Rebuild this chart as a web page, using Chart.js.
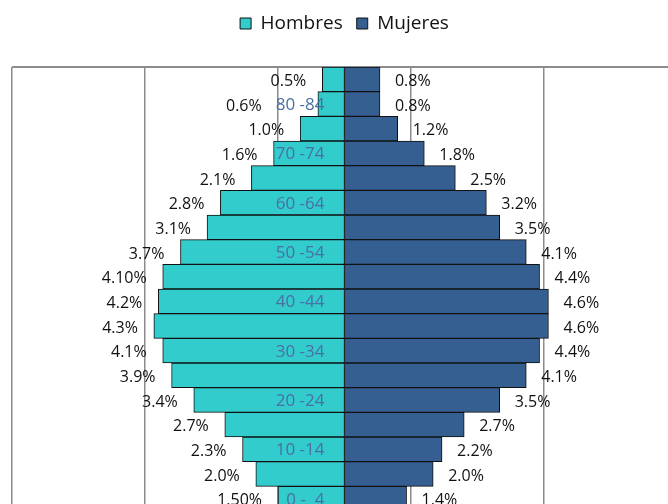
<!DOCTYPE html>
<html>
<head>
<meta charset="utf-8">
<script src="https://cdn.jsdelivr.net/npm/chart.js@4.4.1/dist/chart.umd.min.js"></script>
<style>
  html, body { margin: 0; padding: 0; overflow: hidden; background: #fff; }
  #wrap { width: 690px; height: 516px; position: relative; }
</style>
</head>
<body>
<div id="wrap"><canvas id="chart"></canvas></div>
<script>
// grupos de edad, de arriba hacia abajo
let grupos = ['85+', '80 -84', '75 -79', '70 -74', '65 -69', '60 -64', '55 -59', '50 -54', '45 -49',
              '40 -44', '35 -39', '30 -34', '25 -29', '20 -24', '15 -19', '10 -14', '5 - 9', '0 -  4'];
let hombres = [0.5, 0.6, 1.0, 1.6, 2.1, 2.8, 3.1, 3.7, 4.1, 4.2, 4.3, 4.1, 3.9, 3.4, 2.7, 2.3, 2.0, 1.5];
let mujeres = [0.8, 0.8, 1.2, 1.8, 2.5, 3.2, 3.5, 4.1, 4.4, 4.6, 4.6, 4.4, 4.1, 3.5, 2.7, 2.2, 2.0, 1.4];
let hombresTxt = ['0.5%', '0.6%', '1.0%', '1.6%', '2.1%', '2.8%', '3.1%', '3.7%', '4.10%',
                  '4.2%', '4.3%', '4.1%', '3.9%', '3.4%', '2.7%', '2.3%', '2.0%', '1.50%'];
let mujeresTxt = ['0.8%', '0.8%', '1.2%', '1.8%', '2.5%', '3.2%', '3.5%', '4.1%', '4.4%',
                  '4.6%', '4.6%', '4.4%', '4.1%', '3.5%', '2.7%', '2.2%', '2.0%', '1.4%'];
let xTicks = [-7.5, -4.5, -1.5, 1.5, 4.5, 7.5];

let catFont = '17px "Open Sans"';
let valFont = '16px "Open Sans"';
let catPad = 20;

// solo se muestra una etiqueta de cada dos
function catLabel(i) {
    return i % 2 === 1 ? grupos[i] : '';
}

const etiquetas = {
    id: 'etiquetas',
    beforeInit(chart) {
        // deja mas aire entre la leyenda y el grafico
        const fit = chart.legend.fit;
        chart.legend.fit = function () {
            fit.call(this);
            this.height += 24;
        };
    },
    beforeDatasetsDraw(chart) {
        const ctx = chart.ctx;
        const a = chart.chartArea;
        ctx.save();
        ctx.strokeStyle = '#8c8c8c';
        ctx.lineWidth = 2;
        ctx.beginPath();
        ctx.moveTo(a.left, a.top);
        ctx.lineTo(a.right, a.top);
        ctx.stroke();
        ctx.restore();
    },
    afterDatasetsDraw(chart) {
        const ctx = chart.ctx;
        const x0 = chart.scales.x.getPixelForValue(0);
        const yScale = chart.scales.y;
        ctx.save();
        ctx.textBaseline = 'middle';

        // grupos de edad en el centro, encima de las barras
        ctx.font = catFont;
        ctx.fillStyle = '#4a6fa5';
        ctx.textAlign = 'right';
        grupos.forEach((g, i) => {
            const cat = catLabel(i);
            if (cat) ctx.fillText(cat, x0 - catPad, yScale.getPixelForValue(i) + 1);
        });

        ctx.fillStyle = '#111';
        chart.getDatasetMeta(0).data.forEach((bar, i) => {
            let x = bar.x - 16;
            const cat = catLabel(i);
            if (cat) {
                ctx.font = catFont;
                const catLeft = x0 - catPad - ctx.measureText(cat).width;
                if (x > catLeft - 6) x = catLeft - 14;
            }
            ctx.font = valFont;
            ctx.textAlign = 'right';
            ctx.fillText(hombresTxt[i], x, bar.y + 2);
        });
        chart.getDatasetMeta(1).data.forEach((bar, i) => {
            ctx.font = valFont;
            ctx.textAlign = 'left';
            ctx.fillText(mujeresTxt[i], bar.x + 15, bar.y + 2);
        });
        ctx.restore();
    }
};

let ctx = document.getElementById('chart').getContext('2d');
let chart = new Chart(ctx, {
    type: 'bar',
    data: {
        labels: grupos,
        datasets: [{
            label: 'Hombres',
            data: hombres.map(v => -v),
            backgroundColor: '#33cccc',
            borderColor: '#111',
            borderWidth: 1,
            borderSkipped: false
        }, {
            label: 'Mujeres',
            data: mujeres,
            backgroundColor: '#365f91',
            borderColor: '#111',
            borderWidth: 1,
            borderSkipped: false
        }]
    },
    options: {
        indexAxis: 'y',
        responsive: true,
        maintainAspectRatio: false,
        animation: false,
        categoryPercentage: 1,
        barPercentage: 1,
        layout: { padding: { left: 12, right: 13, top: 0, bottom: 5 } },
        scales: {
            x: {
                stacked: true,
                min: -7.5,
                max: 7.5,
                afterBuildTicks: (scale) => { scale.ticks = xTicks.map(v => ({ value: v })); },
                ticks: { display: false },
                grid: { color: '#8c8c8c', lineWidth: 1.5, drawTicks: false },
                border: { display: false }
            },
            y: {
                stacked: true,
                position: { x: 0 },
                grid: { display: false },
                border: { display: false },
                ticks: { display: false }
            }
        },
        plugins: {
            legend: {
                position: 'top',
                labels: {
                    boxWidth: 11,
                    boxHeight: 11,
                    padding: 14,
                    color: '#111',
                    font: { family: 'Open Sans', size: 19 }
                }
            },
            tooltip: { enabled: false }
        }
    },
    plugins: [etiquetas]
});
</script>
</body>
</html>
